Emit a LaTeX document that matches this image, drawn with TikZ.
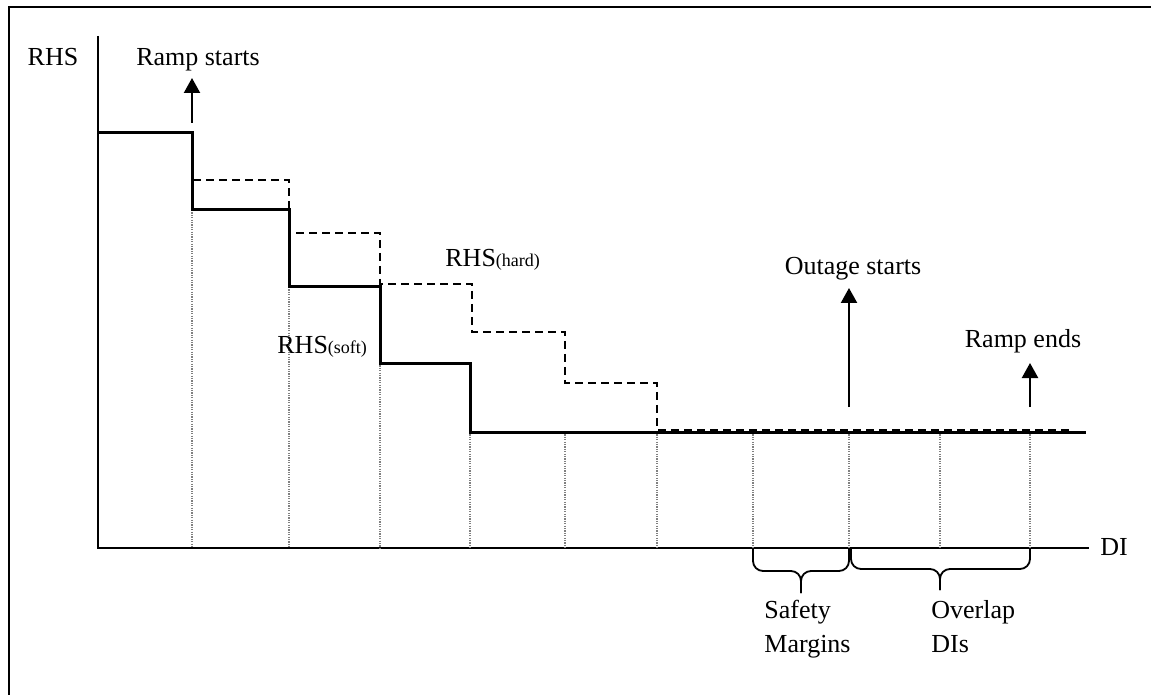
\documentclass[tikz,border=0pt]{standalone}
\usepackage{fontspec}
\setmainfont{Liberation Serif}
\usetikzlibrary{arrows.meta}
\begin{document}
\begin{tikzpicture}[x=0.5pt,y=-0.5pt,
  every node/.style={font=\fontsize{13}{17}\selectfont, inner sep=0pt},
  frame/.style={line width=1pt},
  axisline/.style={line width=1pt},
  softline/.style={line width=1.5pt},
  hardline/.style={line width=1pt, dash pattern=on 4pt off 2.5pt},
  gridline/.style={line width=0.6pt, gray, dash pattern=on 0.6pt off 0.6pt},
  marker/.style={line width=1.1pt, -{Triangle[width=8pt,length=7.5pt]}},
  bracepath/.style={line width=0.9pt, rounded corners=5pt},
  sub/.style={}]
\useasboundingbox (0,0) rectangle (1151,695);
% frame
\draw[frame] (9,695) -- (9,7) -- (1151,7);
% axes
\coordinate (O) at (98,548);
\coordinate (ytop) at (98,36);
\coordinate (xend) at (1089,548);
\draw[axisline] (ytop) -- (O) -- (xend);
\node (rhs) at (53,57) {RHS};
\node (di) at (1114,547) {DI};
% grid
\foreach \x/\y in {192/210,289/287,380/363,470/432,565/432,657/432,753/432,849/432,940/432,1030/432}
  \draw[gridline] (\x,\y) -- (\x,548);
% hard (dashed)
\draw[hardline] (98,132) -- (192,132) -- (192,180) -- (289,180) -- (289,233) -- (380,233)
  -- (380,284) -- (472,284) -- (472,332) -- (565,332) -- (565,383) -- (657,383) -- (657,430) -- (1072,430);
% soft (solid)
\draw[softline] (98,133) -- (192,133) -- (192,210) -- (289,210) -- (289,287) -- (380,287)
  -- (380,363) -- (470,363) -- (470,432) -- (1086,432);
% labels
\node[anchor=base west] (hard) at (445,267) {RHS{\fontsize{9}{10}\selectfont (hard)}};
\node[anchor=base west] (soft) at (277,353) {RHS{\fontsize{9}{10}\selectfont (soft)}};
\node[anchor=base] (rstart) at (198,66) {Ramp starts};
\node[anchor=base] (ostart) at (853,275) {Outage starts};
\node[anchor=base] (rend) at (1023,347) {Ramp ends};
% arrows
\coordinate (a1) at (192,123); \coordinate (a1t) at (192,78);
\coordinate (a2) at (849,407); \coordinate (a2t) at (849,288);
\coordinate (a3) at (1030,407); \coordinate (a3t) at (1030,363);
\draw[marker] (a1) -- (a1t);
\draw[marker] (a2) -- (a2t);
\draw[marker] (a3) -- (a3t);
% braces
\draw[bracepath] (753,548) -- (753,571) -- (801,571) -- (801,593);
\draw[bracepath] (849,548) -- (849,571) -- (801,571) -- (801,593);
\draw[bracepath] (851,548) -- (851,569) -- (940,569) -- (940,590);
\draw[bracepath] (1030,548) -- (1030,569) -- (940,569) -- (940,590);
\node[anchor=north west, align=left] (safety) at (764,600) {Safety\\Margins};
\node[anchor=north west, align=left] (overlap) at (931,600) {Overlap\\DIs};
\end{tikzpicture}
\end{document}
